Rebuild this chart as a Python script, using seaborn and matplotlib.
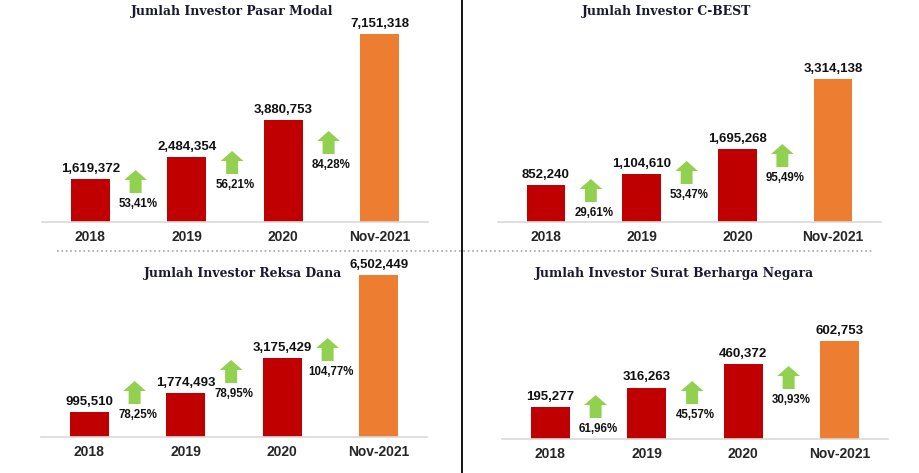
import numpy as np
import pandas as pd
import seaborn as sns
import matplotlib
matplotlib.use("Agg")
import matplotlib.pyplot as plt
import matplotlib.transforms as mtransforms
from matplotlib.patches import Polygon
from matplotlib.lines import Line2D

# data
categories = ["2018", "2019", "2020", "Nov-2021"]
pasar_modal = [1619372, 2484354, 3880753, 7151318]
cbest = [852240, 1104610, 1695268, 3314138]
reksa_dana = [995510, 1774493, 3175429, 6502449]
sbn = [195277, 316263, 460372, 602753]

pasar_modal_growth = [53.41, 56.21, 84.28]
cbest_growth = [29.61, 53.47, 95.49]
reksa_dana_growth = [78.25, 78.95, 104.77]
sbn_growth = [61.96, 45.57, 30.93]

titles = ["Jumlah Investor Pasar Modal", "Jumlah Investor C-BEST",
          "Jumlah Investor Reksa Dana", "Jumlah Investor Surat Berharga Negara"]

bar_colors = ["#C00000", "#C00000", "#C00000", "#ED7D31"]
arrow_color = "#92D050"

sns.set_style("white")
plt.rcParams["font.family"] = ["Liberation Sans", "DejaVu Sans"]

W, H = 919, 473
fig = plt.figure(figsize=(W / 100, H / 100), dpi=100)

# layout in pixels: left, right, baseline (from top), axes height, px of tallest bar
panels = [
    dict(vals=pasar_modal, growth=pasar_modal_growth, box=(42, 428, 222, 202, 188),
         arrows=[29, 48, 68], title_xy=(232, 12)),
    dict(vals=cbest, growth=cbest_growth, box=(498, 881, 222, 202, 143),
         arrows=[20, 38, 55], title_xy=(667, 12)),
    dict(vals=reksa_dana, growth=reksa_dana_growth, box=(41, 427, 437, 180, 162),
         arrows=[33, 54, 76], title_xy=(243, 274)),
    dict(vals=sbn, growth=sbn_growth, box=(502, 888, 439, 180, 98),
         arrows=[21, 35, 50], title_xy=(674, 274)),
]

for p, title in zip(panels, titles):
    left, right, base, h, top_px = p["box"]
    ax = fig.add_axes([left / W, (H - base) / H, (right - left) / W, h / H])
    sns.barplot(x=categories, y=p["vals"], hue=categories, palette=bar_colors,
                legend=False, width=0.4, saturation=1, linewidth=0, ax=ax)
    ax.set_xlim(-0.5, 3.5)
    ax.set_ylim(0, max(p["vals"]) * h / top_px)
    ax.set_yticks([])
    ax.set_xlabel("")
    ax.set_ylabel("")
    sns.despine(ax=ax, left=True)
    ax.spines["bottom"].set_color("#D9D9D9")
    ax.spines["bottom"].set_linewidth(1.2)
    ax.tick_params(axis="x", length=0, pad=6, labelsize=10)
    for lbl in ax.get_xticklabels():
        lbl.set_fontweight("bold")

    for c in ax.containers:
        ax.bar_label(c, labels=[f"{v:,.0f}" for v in c.datavalues], padding=3,
                     fontsize=9.5, fontweight="bold", color="#111111")

    # growth arrows between bars
    tr = mtransforms.blended_transform_factory(ax.transData, ax.transAxes)
    sw, hw = 0.062, 0.118
    for i, (g, off) in enumerate(zip(p["growth"], p["arrows"])):
        x = i + 0.47
        y0, yn, y1 = off / h, (off + 13) / h, (off + 23) / h
        verts = [(x - sw, y0), (x + sw, y0), (x + sw, yn), (x + hw, yn),
                 (x, y1), (x - hw, yn), (x - sw, yn)]
        ax.add_patch(Polygon(verts, closed=True, transform=tr,
                             facecolor=arrow_color, edgecolor="none", clip_on=False))
        ax.text(x + 0.03, (off - 11) / h, f"{g:.2f}%".replace(".", ","),
                transform=tr, ha="center", va="center", fontsize=8.3,
                fontweight="bold", color="#111111")

    tx, ty = p["title_xy"]
    fig.text(tx / W, 1 - ty / H, title, ha="center", va="center",
             fontsize=8.9, fontweight="bold", family="DejaVu Serif", color="#1A1A2E")

# separators
fig.add_artist(Line2D([462 / W, 462 / W], [0, 1], color="black", lw=1.3))
fig.add_artist(Line2D([57 / W, 873 / W], [1 - 251 / H, 1 - 251 / H],
                      color="#A6A6A6", lw=1.2, ls=":"))

fig.savefig("out.png", dpi=100)
